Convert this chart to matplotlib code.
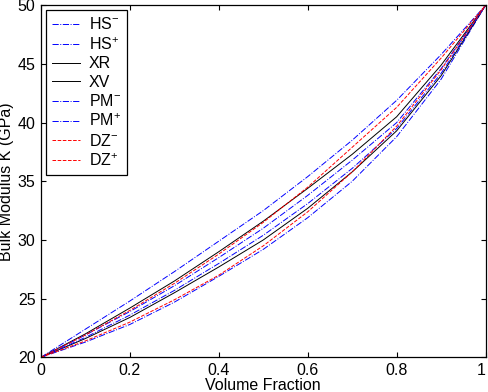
import numpy as np
import matplotlib
matplotlib.use('Agg')
import matplotlib.pyplot as plt

plt.rcParams['font.family'] = ['Liberation Sans', 'DejaVu Sans']
plt.rcParams['mathtext.fontset'] = 'custom'
plt.rcParams['mathtext.rm'] = 'Liberation Sans'
plt.rcParams['mathtext.it'] = 'Liberation Sans:italic'

#- volume fraction and bulk modulus curves (GPa)
vf = [0.0, 0.1, 0.2, 0.3, 0.4, 0.5, 0.6, 0.7, 0.8, 0.9, 1.0]
hs_minus = [20, 21.3, 22.8, 24.7, 26.9, 29.2, 31.9, 35.0, 38.8, 43.7, 50]
hs_plus = [20, 22.4, 24.8, 27.3, 29.9, 32.5, 35.4, 38.5, 41.9, 45.8, 50]
xr = [20, 22.0, 24.2, 26.5, 29.0, 31.6, 34.4, 37.3, 40.5, 44.9, 50]
xv = [20, 21.6, 23.4, 25.5, 27.7, 30.0, 32.7, 35.8, 39.3, 44.0, 50]
pm_minus = [20, 21.7, 23.6, 25.7, 28.0, 30.4, 33.1, 36.1, 39.5, 44.2, 50]
pm_plus = [20, 21.9, 23.9, 26.1, 28.5, 31.0, 33.8, 36.8, 40.0, 44.6, 50]
dz_minus = [20, 21.4, 23.0, 24.9, 27.0, 29.5, 32.4, 35.8, 39.7, 44.5, 50]
dz_plus = [20, 21.9, 24.0, 26.3, 28.8, 31.5, 34.5, 37.9, 41.3, 45.5, 50]

x_ticks = [0, 0.2, 0.4, 0.6, 0.8, 1]
x_tick_labels = ['0', '0.2', '0.4', '0.6', '0.8', '1']
y_ticks = [20, 25, 30, 35, 40, 45, 50]

fig = plt.figure(figsize=(4.88, 3.92), dpi=100)
ax = fig.add_axes([0.084, 0.0885, 0.911, 0.898])

lw = 0.7
ax.plot(vf, hs_minus, '-.', color='b', lw=lw, label=r'HS$^{-}$')
ax.plot(vf, hs_plus, '-.', color='b', lw=lw, label=r'HS$^{+}$')
ax.plot(vf, xr, '-', color='k', lw=lw, label='XR')
ax.plot(vf, xv, '-', color='k', lw=lw, label='XV')
ax.plot(vf, pm_minus, '-.', color='b', lw=lw, label=r'PM$^{-}$')
ax.plot(vf, pm_plus, '-.', color='b', lw=lw, label=r'PM$^{+}$')
ax.plot(vf, dz_minus, '--', color='r', lw=lw, label=r'DZ$^{-}$')
ax.plot(vf, dz_plus, '--', color='r', lw=lw, label=r'DZ$^{+}$')

ax.set_xlim(0, 1)
ax.set_ylim(20, 50)
ax.set_xticks(x_ticks)
ax.set_xticklabels(x_tick_labels)
ax.set_yticks(y_ticks)
ax.tick_params(direction='in', length=3.6, width=0.8, labelsize=11.5,
               top=True, right=True, pad=4)
# keep the last tick label inside the figure
ax.get_xticklabels()[-1].set_horizontalalignment('right')
for s in ax.spines.values():
    s.set_linewidth(0.9)

ax.set_xlabel('Volume Fraction', fontsize=11.5)
ax.xaxis.set_label_coords(0.5, -0.058)
ax.set_ylabel('Bulk Modulus K (GPa)', fontsize=11.5)
ax.yaxis.set_label_coords(-0.06, 0.5)

leg = ax.legend(loc='upper left', fontsize=11.5, frameon=True, fancybox=False,
                edgecolor='k', framealpha=1, handlelength=1.75,
                handletextpad=0.55, labelspacing=0.22, borderpad=0.4,
                borderaxespad=0.3)
leg.get_frame().set_linewidth(0.9)

fig.savefig('out.png', dpi=100)
